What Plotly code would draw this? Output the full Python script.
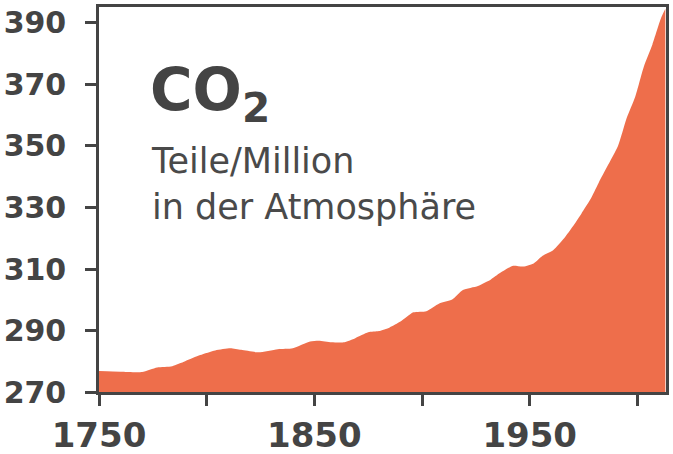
import plotly.graph_objects as go

# CO2 concentration (ppm)
years = [1750, 1760, 1770, 1777, 1784, 1790, 1797, 1804, 1811, 1816,
         1824, 1833, 1840, 1848, 1852, 1858, 1864, 1869, 1875, 1880,
         1885, 1890, 1896, 1902, 1908, 1914, 1919, 1926, 1932, 1936,
         1942, 1947, 1952, 1956, 1961, 1966, 1970, 1974, 1978, 1982,
         1986, 1991, 1995, 1999, 2003, 2007, 2011, 2013]
ppm = [276.8, 276.6, 276.5, 278.0, 278.4, 280.0, 282.0, 283.5, 284.2, 283.7,
       282.9, 283.9, 284.2, 286.4, 286.7, 286.2, 286.2, 287.5, 289.4, 289.8,
       291.0, 292.9, 295.9, 296.3, 298.8, 300.1, 303.2, 304.5, 306.6, 308.6,
       311.0, 310.8, 311.9, 314.3, 316.2, 320.0, 323.8, 328.0, 332.4, 338.0,
       343.3, 350.0, 359.0, 366.0, 375.8, 383.0, 391.6, 394.6]

x_ticks = [1750, 1800, 1850, 1900, 1950, 2000]
x_labels = ["1750", "", "1850", "", "1950", ""]
y_ticks = [270, 290, 310, 330, 350, 370, 390]

dark = "#444444"
fill = "#EE6E4B"

fig = go.Figure()
fig.add_trace(go.Scatter(
    x=years, y=ppm,
    mode="lines",
    line=dict(width=0, shape="spline", smoothing=0.6, color=fill),
    fill="tozeroy",
    fillcolor=fill,
    hoverinfo="skip",
))

fig.add_annotation(
    xref="paper", yref="paper", x=0.087, y=0.775,
    xanchor="left", yanchor="middle", showarrow=False,
    text="<b>CO<sub>2</sub></b>",
    font=dict(family="DejaVu Sans", size=58, color=dark),
)
fig.add_annotation(
    xref="paper", yref="paper", x=0.089, y=0.54,
    xanchor="left", yanchor="middle", align="left", showarrow=False,
    text="Teile/Million<br>in der Atmosphäre",
    font=dict(family="DejaVu Sans", size=35, color="#4a4a4a"),
)

fig.update_xaxes(
    range=[1750, 2013.3],
    tickvals=x_ticks, ticktext=x_labels,
    ticks="outside", ticklen=11, tickwidth=2.5, tickcolor=dark,
    showline=True, linecolor=dark, linewidth=2.5, mirror=True,
    showgrid=False, zeroline=False, automargin=False,
    tickfont=dict(family="DejaVu Sans", size=34, color=dark, weight="bold"),
    ticklabelstandoff=0, ticklabeloverflow="allow",
)
fig.update_yaxes(
    range=[270, 395.2],
    tickvals=y_ticks,
    ticks="outside", ticklen=11, tickwidth=2.5, tickcolor=dark,
    showline=True, linecolor=dark, linewidth=2.5, mirror=True,
    showgrid=False, zeroline=False, automargin=False,
    tickfont=dict(family="DejaVu Sans", size=30, color=dark, weight="bold"),
    ticklabelstandoff=13, ticklabeloverflow="allow",
)
fig.update_layout(
    width=673, height=454,
    margin=dict(l=99, r=7, t=7, b=62),
    paper_bgcolor="white", plot_bgcolor="white",
    showlegend=False,
)

# drop the browser's default 8px body margin so the figure sits at the page corner
fig.write_html("out.html", config={"displayModeBar": False},
               post_script="document.body.style.margin = '0';")
